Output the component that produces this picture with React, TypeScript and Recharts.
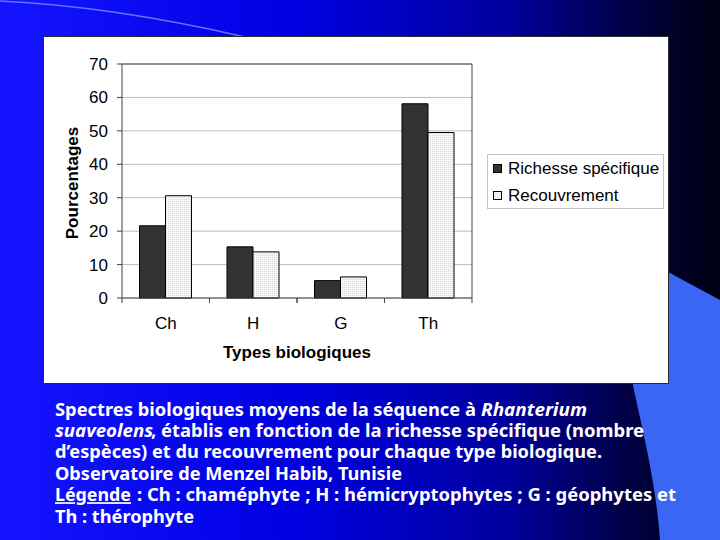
import React from 'react';
import { BarChart, Bar, XAxis, YAxis, CartesianGrid, Legend, Label } from 'recharts';

const categories = ['Ch', 'H', 'G', 'Th'];
const richesse = [21.6, 15.3, 5.2, 58.1];
const recouvrement = [30.6, 13.8, 6.3, 49.5];
const yTicks = [0, 10, 20, 30, 40, 50, 60, 70];
const seriesNames = ['Richesse spécifique', 'Recouvrement'];
const xTitle = 'Types biologiques';
const yTitle = 'Pourcentages';

// caption segments: text, italic, underline, start x, end x, line index
const captionSegments = [
  { t: 'Spectres biologiques moyens de la séquence à', x0: 55, x1: 476, line: 0 },
  { t: 'Rhanterium', i: true, x0: 481, x1: 587, line: 0 },
  { t: 'suaveolens', i: true, x0: 55, x1: 153, line: 1 },
  { t: ', établis en fonction de la richesse spécifique (nombre', x0: 151, x1: 644, line: 1 },
  { t: 'd’espèces) et du recouvrement pour chaque type biologique.', x0: 55, x1: 602, line: 2 },
  { t: 'Observatoire de Menzel Habib, Tunisie', x0: 55, x1: 402, line: 3 },
  { t: 'Légende', u: true, x0: 55, x1: 131, line: 4 },
  { t: ': Ch : chaméphyte ; H : hémicryptophytes ; G : géophytes et', x0: 137, x1: 676, line: 4 },
  { t: 'Th : thérophyte', x0: 55, x1: 194, line: 5 },
];
const captionBaselines = [415.5, 437, 458.4, 479.8, 501.2, 522.6];

const data = categories.map((c, i) => ({ type: c, richesse: richesse[i], recouvrement: recouvrement[i] }));

const FONT = '"Liberation Sans", Arial, sans-serif';
const TICK_SIZE = 5;
const X_TICK_MARGIN = 14;

function XTick(props: any) {
  const { x, y, payload } = props;
  const half = payload && payload.offset ? payload.offset : 0;
  const top = y - X_TICK_MARGIN - TICK_SIZE;
  return (
    <g>
      <line x1={x - half} x2={x - half} y1={top} y2={top + TICK_SIZE} stroke="#444" />
      <line x1={x + half} x2={x + half} y1={top} y2={top + TICK_SIZE} stroke="#444" />
      <text x={x} y={y} dy="0.71em" textAnchor="middle" fontSize={17} fontFamily={FONT} fill="#000">
        {payload.value}
      </text>
    </g>
  );
}

function YLabel(props: any) {
  const vb = props.viewBox || { x: 0, y: 0, width: 0, height: 0 };
  const cx = vb.x + 28.5;
  const cy = vb.y + vb.height / 2 + 2;
  return (
    <text
      x={cx}
      y={cy}
      transform={`rotate(-90 ${cx} ${cy})`}
      textAnchor="middle"
      dominantBaseline="central"
      fontSize={17}
      fontWeight="bold"
      fontFamily={FONT}
      fill="#000"
    >
      {yTitle}
    </text>
  );
}

function XLabel(props: any) {
  const vb = props.viewBox || { x: 0, y: 0, width: 0, height: 0 };
  return (
    <text x={vb.x + vb.width / 2} y={vb.y + 60.3} textAnchor="middle" fontSize={17} fontWeight="bold" fontFamily={FONT} fill="#000">
      {xTitle}
    </text>
  );
}

function LegendBox(props: any) {
  const payload = [...(props.payload || [])].sort(
    (a: any, b: any) => seriesNames.indexOf(a.value) - seriesNames.indexOf(b.value)
  );
  return (
    <div
      style={{
        width: 177,
        height: 55,
        border: '1px solid #c4c4c4',
        boxSizing: 'border-box',
        background: '#fff',
        fontFamily: FONT,
        fontSize: 17,
        color: '#000',
        paddingTop: 0,
      }}
    >
      {payload.map((e: any, idx: number) => (
        <div key={idx} style={{ height: 27, display: 'flex', alignItems: 'center', whiteSpace: 'nowrap' }}>
          <svg width={9} height={9} style={{ marginLeft: 5, marginRight: 6, display: 'block' }}>
            <rect x={0.5} y={0.5} width={8} height={8} fill={e.color} stroke="#000" />
          </svg>
          <span>{e.value}</span>
        </div>
      ))}
    </div>
  );
}

const frameTop = (p: any) => [p.offset.top];
const frameRight = (p: any) => [p.offset.left + p.offset.width];

export default function App() {
  return (
    <div style={{ position: 'fixed', left: 0, top: 0, width: 720, height: 540, overflow: 'hidden' }}>
      <svg width={720} height={540} style={{ position: 'absolute', left: 0, top: 0 }}>
        <defs>
          <linearGradient id="bg" x1="0" y1="0" x2="1" y2="0">
            <stop offset="0%" stopColor="#1414ff" />
            <stop offset="40%" stopColor="#0000e4" />
            <stop offset="70%" stopColor="#0000a0" />
            <stop offset="86%" stopColor="#00004a" />
            <stop offset="100%" stopColor="#000010" />
          </linearGradient>
          <pattern id="dots" width={2} height={2} patternUnits="userSpaceOnUse">
            <rect width={2} height={2} fill="#f8f8f8" />
            <rect width={1} height={1} fill="#d6d6d6" />
          </pattern>
        </defs>
        <rect width={720} height={540} fill="url(#bg)" />
        <path d="M -2 1 Q 110 6 245 37" stroke="#5a78ff" strokeWidth={1.5} fill="none" />
        <path d="M 668 272 L 720 300 L 720 540 L 660 540 C 656 480 640 420 633 385 C 628 350 645 300 668 272 Z" fill="#3b66f4" />
        {captionSegments.map((s: any, si: number) => (
          <text
            key={si}
            x={s.x0}
            y={captionBaselines[s.line]}
            fontSize={17}
            fontWeight="bold"
            fontStyle={s.i ? 'italic' : 'normal'}
            fontFamily='"Noto Sans", "DejaVu Sans", sans-serif'
            fill="#fff"
            textLength={s.x1 - s.x0}
            lengthAdjust="spacingAndGlyphs"
            style={s.u ? { textDecoration: 'underline' } : undefined}
          >
            {s.t}
          </text>
        ))}
      </svg>
      <div
        style={{
          position: 'absolute',
          left: 44,
          top: 37,
          width: 624,
          height: 346,
          background: '#fff',
          boxShadow: '0 0 0 1px #2a2a2a',
        }}
      >
        <BarChart
          width={624}
          height={346}
          data={data}
          margin={{ top: 27, right: 196, left: 0, bottom: 0 }}
          barCategoryGap="20%"
          barGap={0}
        >
          <CartesianGrid vertical={false} stroke="#bdbdbd" />
          <CartesianGrid
            stroke="#444"
            horizontalCoordinatesGenerator={frameTop}
            verticalCoordinatesGenerator={frameRight}
          />
          <XAxis
            dataKey="type"
            height={85}
            tickLine={false}
            tickSize={TICK_SIZE}
            tickMargin={X_TICK_MARGIN}
            axisLine={{ stroke: '#444' }}
            tick={<XTick />}
            interval={0}
          >
            <Label content={<XLabel />} />
          </XAxis>
          <YAxis
            width={78}
            domain={[0, 70]}
            ticks={yTicks}
            interval={0}
            tickSize={TICK_SIZE}
            tickMargin={9}
            tickLine={{ stroke: '#444' }}
            axisLine={{ stroke: '#444' }}
            tick={{ fontSize: 17, fontFamily: FONT, fill: '#000' }}
          >
            <Label content={<YLabel />} />
          </YAxis>
          <Bar dataKey="richesse" name={seriesNames[0]} fill="#333333" stroke="#000" strokeWidth={1} isAnimationActive={false} />
          <Bar dataKey="recouvrement" name={seriesNames[1]} fill="url(#dots)" stroke="#000" strokeWidth={1} isAnimationActive={false} />
          <Legend
            layout="vertical"
            align="center"
            verticalAlign="middle"
            content={<LegendBox />}
            wrapperStyle={{ left: 443, top: 117, width: 177, height: 55 }}
          />
        </BarChart>
      </div>
    </div>
  );
}
